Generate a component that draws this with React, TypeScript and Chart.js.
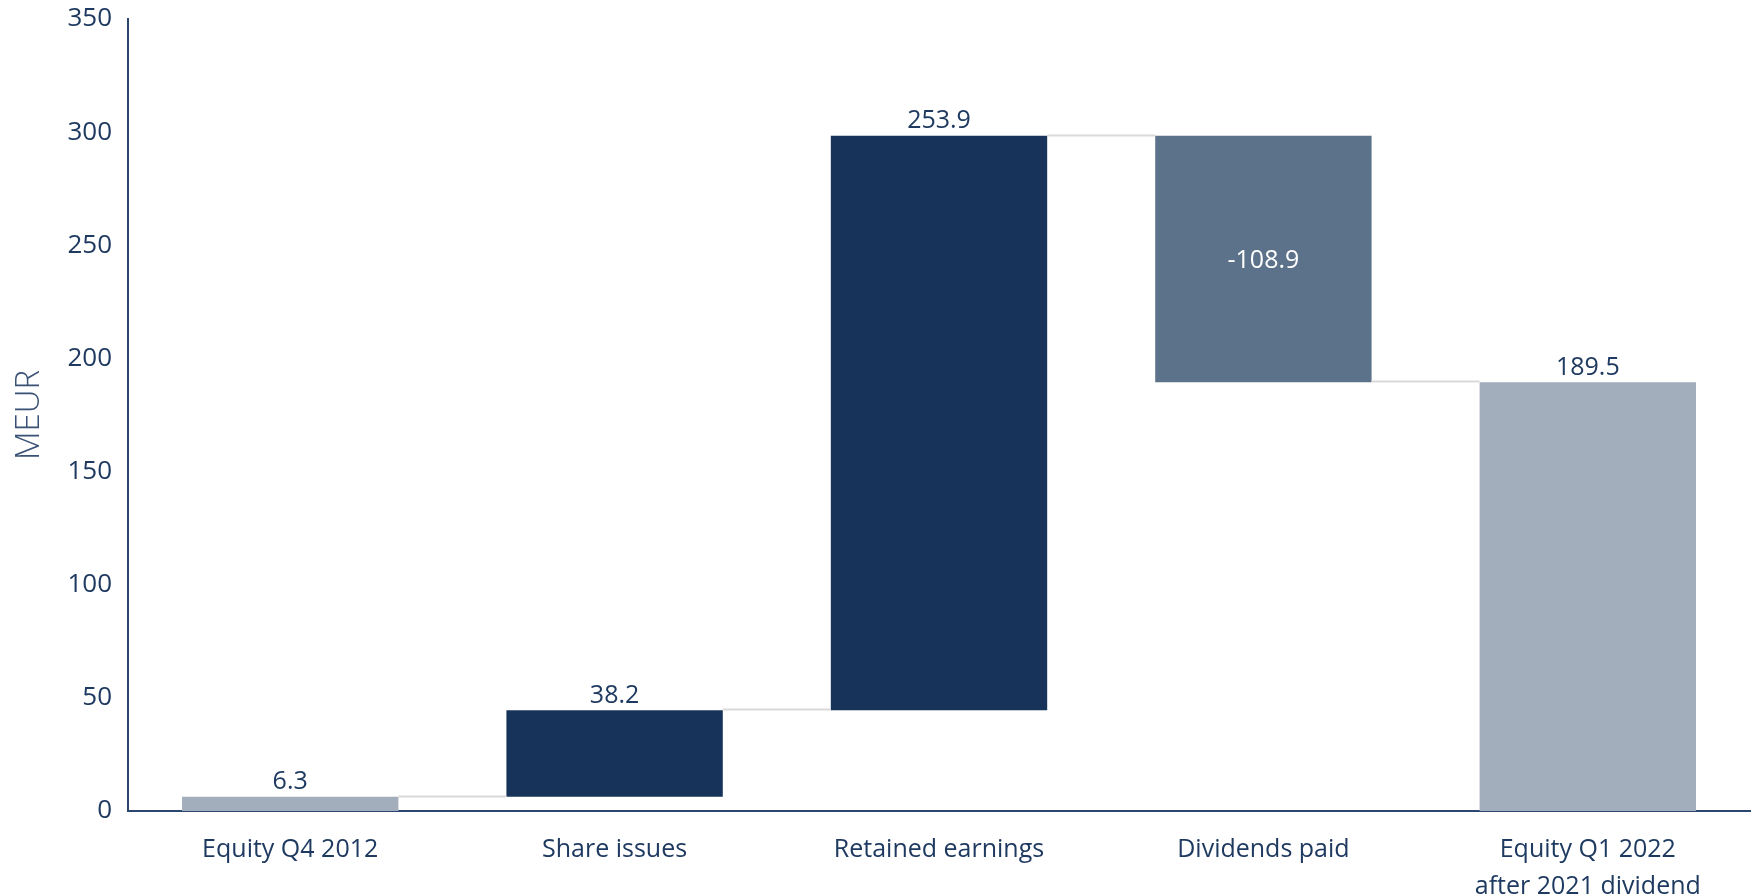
import React, { useEffect, useRef } from "react";
import { Chart, registerables } from "chart.js";

Chart.register(...registerables);

const categories: (string | string[])[] = [
  "Equity Q4 2012",
  "Share issues",
  "Retained earnings",
  "Dividends paid",
  ["Equity Q1 2022", "after 2021 dividend"],
];
const changes = [6.3, 38.2, 253.9, -108.9, 189.5];
const isTotal = [true, false, false, false, true];
const yTicks = [0, 50, 100, 150, 200, 250, 300, 350];

const TEXT = "#1F3A60";
const TOTAL_COLOR = "#A3AEBD";
const UP_COLOR = "#17335A";
const DOWN_COLOR = "#5C718A";
const CONNECTOR = "#DADADA";

function buildRanges() {
  const ranges: [number, number][] = [];
  let running = 0;
  changes.forEach((v, i) => {
    if (isTotal[i]) {
      ranges.push([0, v]);
      running = v;
    } else {
      const start = running;
      running = +(running + v).toFixed(1);
      ranges.push([start, running]);
    }
  });
  return ranges;
}

export default function App() {
  const ref = useRef<HTMLCanvasElement | null>(null);

  useEffect(() => {
    if (!ref.current) return;
    const ranges = buildRanges();
    const colors = changes.map((v, i) =>
      isTotal[i] ? TOTAL_COLOR : v >= 0 ? UP_COLOR : DOWN_COLOR
    );

    const waterfallPlugin = {
      id: "waterfallExtras",
      afterDatasetsDraw(chart: any) {
        const { ctx } = chart;
        const meta = chart.getDatasetMeta(0);
        const y = chart.scales.y;
        ctx.save();
        ctx.strokeStyle = CONNECTOR;
        ctx.lineWidth = 2;
        for (let i = 0; i < meta.data.length - 1; i++) {
          const a = meta.data[i];
          const b = meta.data[i + 1];
          const endVal = ranges[i][1];
          const py = Math.round(y.getPixelForValue(endVal)) - 0.5;
          ctx.beginPath();
          ctx.moveTo(a.x + a.width / 2, py);
          ctx.lineTo(b.x - b.width / 2, py);
          ctx.stroke();
        }
        ctx.font = "25px 'Open Sans'";
        ctx.textAlign = "center";
        meta.data.forEach((bar: any, i: number) => {
          const v = changes[i];
          const label = v.toFixed(1);
          if (v < 0) {
            ctx.fillStyle = "#FFFFFF";
            ctx.textBaseline = "middle";
            const mid = (y.getPixelForValue(ranges[i][0]) + y.getPixelForValue(ranges[i][1])) / 2;
            ctx.fillText(label, bar.x, mid + 2);
          } else {
            ctx.fillStyle = TEXT;
            ctx.textBaseline = "bottom";
            const top = y.getPixelForValue(Math.max(ranges[i][0], ranges[i][1]));
            ctx.fillText(label, bar.x, top - 2);
          }
        });
        ctx.restore();
      },
    };

    const chart = new Chart(ref.current, {
      type: "bar",
      data: {
        labels: categories,
        datasets: [
          {
            data: ranges as any,
            backgroundColor: colors,
            borderWidth: 0,
            barPercentage: 0.667,
            categoryPercentage: 1,
          },
        ],
      },
      options: {
        animation: false,
        responsive: false,
        maintainAspectRatio: false,
        layout: { padding: { top: 19, right: 12, left: 0, bottom: 0 } },
        plugins: {
          legend: { display: false },
          tooltip: { enabled: false },
        },
        scales: {
          x: {
            grid: { display: false, drawTicks: false },
            border: { display: true, color: "#2B4670", width: 2 },
            ticks: {
              color: TEXT,
              font: { family: "'Open Sans'", size: 25, lineHeight: 1.5 },
              padding: 20,
              maxRotation: 0,
              autoSkip: false,
            },
            afterFit: (s: any) => {
              s.height = 83;
            },
          },
          y: {
            min: 0,
            max: 350,
            afterBuildTicks: (s: any) => {
              s.ticks = yTicks.map((v) => ({ value: v }));
            },
            grid: { display: false, drawTicks: false },
            border: { display: true, color: "#2B4670", width: 2 },
            ticks: {
              color: TEXT,
              font: { family: "'Open Sans'", size: 26 },
              padding: 16,
            },
            title: {
              display: true,
              text: "MEUR",
              color: "#3A5276",
              font: { family: "'Open Sans'", size: 33, weight: "300" as any, lineHeight: 1.2 },
              padding: { top: 10, bottom: 0 },
            },
            afterFit: (s: any) => {
              s.width = 128;
              s.paddingTop = 0;
              s.paddingBottom = 0;
            },
          },
        },
      },
      plugins: [waterfallPlugin],
    });
    return () => chart.destroy();
  }, []);

  return (
    <div style={{ position: "fixed", left: 0, top: 0, width: 1762, height: 894, background: "#fff" }}>
      <canvas ref={ref} width={1762} height={894} style={{ width: 1762, height: 894 }} />
    </div>
  );
}
